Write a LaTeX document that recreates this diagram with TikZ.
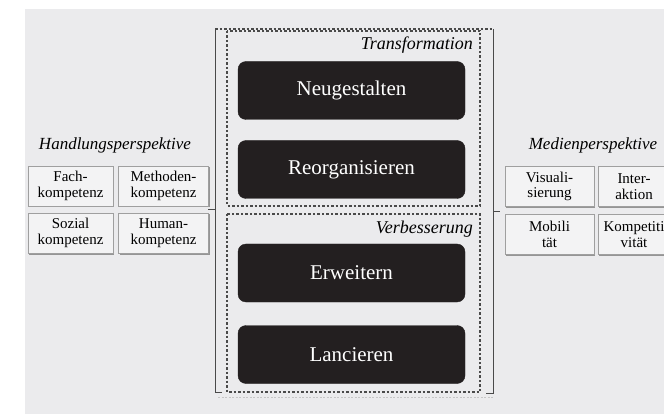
\documentclass[tikz,border=0pt]{standalone}
\usepackage{fontspec}
\setmainfont{Liberation Serif}
\usetikzlibrary{shadows}
\definecolor{bggray}{HTML}{EBEBED}
\definecolor{darkfill}{HTML}{231F20}
\definecolor{framegray}{HTML}{4A4A4A}
\definecolor{boxfill}{HTML}{F3F3F4}
\begin{document}
\begin{tikzpicture}[x=1pt,y=-1pt,
  darkbox/.style={draw=darkfill, fill=darkfill, rounded corners=8pt,
    minimum width=227pt, minimum height=58pt, text=white,
    font=\fontsize{21}{24}\selectfont, inner sep=0pt},
  smallbox/.style={draw=gray!75, fill=boxfill, minimum height=40pt,
    align=center, font=\fontsize{15}{15.5}\selectfont, inner sep=0pt,
    drop shadow={shadow xshift=1.2pt, shadow yshift=-1.5pt, fill=gray!90, opacity=0.9}},
  grouptitle/.style={font=\fontsize{17}{20}\selectfont\itshape, inner sep=0pt},
  zonelabel/.style={font=\fontsize{18}{20}\selectfont\itshape, inner sep=0pt, anchor=east},
  zonebox/.style={draw=framegray, line width=1.1pt, dash pattern=on 2.5pt off 2pt},
  framel/.style={draw=framegray, line width=1pt},
]
\useasboundingbox (0,0) rectangle (664,414);
\clip (0,0) rectangle (664,414);
\fill[white] (0,0) rectangle (664,414);
\fill[bggray] (25,9) rectangle (664,414);

% outer frame
\coordinate (tl) at (215,29);
\coordinate (tr) at (493,29);
\coordinate (bl) at (215,392);
\coordinate (br) at (493,393);
\coordinate (blt) at (222,392);
\coordinate (brt) at (486,393);
\draw[framel] (tl) -- (bl) -- (blt);
\draw[framel] (tr) -- (br) -- (brt);
\draw[zonebox] (tl) -- (tr);
\draw[gray!45, dash pattern=on 2pt off 1.5pt] (218,397) -- (494,397);

% zones
\draw[zonebox] (227,31) rectangle (480,206);
\draw[zonebox] (227,214) rectangle (480,392);
\node[zonelabel] (ltrans) at (473,45) {Transformation};
\node[zonelabel] (lverb) at (473,229) {Verbesserung};

% dark boxes
\node[darkbox] (neu) at (351.5,90.5) {Neugestalten};
\node[darkbox] (reo) at (351.5,169.5) {Reorganisieren};
\node[darkbox] (erw) at (351.5,273) {Erweitern};
\node[darkbox] (lan) at (351.5,354.5) {Lancieren};

% left group
\node[grouptitle] (hp) at (115,145) {Handlungsperspektive};
\node[smallbox, minimum width=85pt] (fach) at (70.5,186) {Fach-\\kompetenz};
\node[smallbox, minimum width=90pt] (meth) at (163.5,186) {Methoden-\\kompetenz};
\node[smallbox, minimum width=85pt] (soz) at (70.5,233) {Sozial\\kompetenz};
\node[smallbox, minimum width=90pt] (hum) at (163.5,233) {Human-\\kompetenz};

% right group
\node[grouptitle] (mp) at (593,145) {Medienperspektive};
\node[smallbox, minimum width=89pt] (vis) at (549.5,186.5) {Visuali-\\sierung};
\node[smallbox, minimum width=72pt] (int) at (634,186.5) {Inter-\\aktion};
\node[smallbox, minimum width=89pt] (mob) at (549.5,234.5) {Mobili\\tät};
\node[smallbox, minimum width=72pt] (komp) at (634,234.5) {Kompetiti\\vität};

% connecting ticks
\coordinate (lt) at (215,210);
\coordinate (rt) at (493,212);
\draw[framel] (lt) -- ++(-7,0);
\draw[framel] (rt) -- ++(7,0);
\end{tikzpicture}
\end{document}
